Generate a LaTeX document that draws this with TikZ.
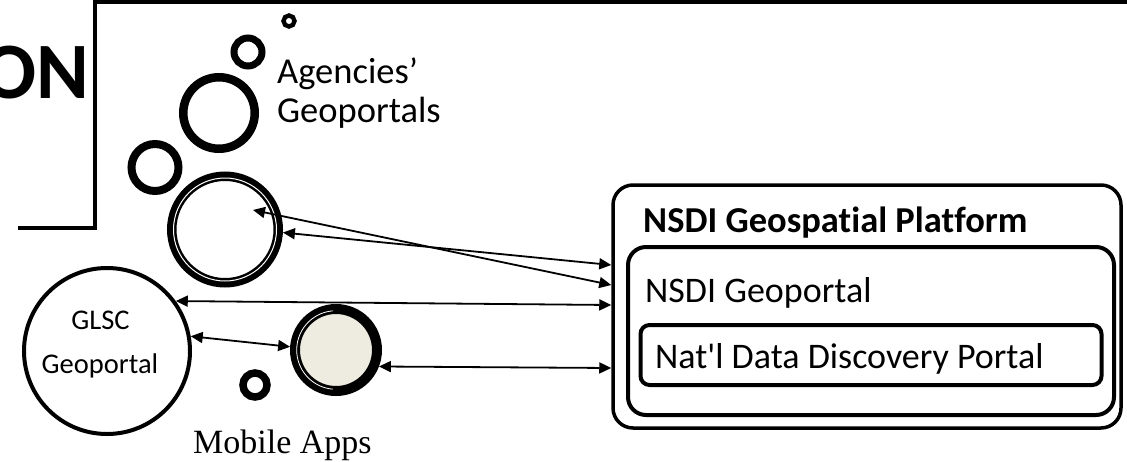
\documentclass[tikz,border=0pt]{standalone}
\usepackage{fontspec}
\setmainfont{Carlito}[Ligatures={TeXOff,NoCommon}]
\newfontfamily\seriff{Liberation Serif}
\usetikzlibrary{arrows.meta}
\definecolor{beige}{HTML}{EEECE1}
\begin{document}
\begin{tikzpicture}[x=1pt,y=-1pt,
  ring/.style={circle, draw, inner sep=0pt},
  lbl/.style={inner sep=0pt, anchor=base west},
  ctr/.style={inner sep=0pt, anchor=base},
  bigtxt/.style={font=\fontsize{36}{40}\selectfont},
  arr/.style={line width=1.8pt, {Triangle[length=12pt,width=11pt]}-{Triangle[length=12pt,width=11pt]}},
  pbox/.style={draw, rounded corners=#1, inner sep=0pt}]
\useasboundingbox (0,0) rectangle (1127,461);

% frame
\draw[line width=4pt] (18,228) -- (95,228) -- (95,2) -- (1135,2);
\node[anchor=base east, inner sep=0pt, font=\bfseries\fontsize{80}{80}\selectfont] (on) at (89,98) {ON};

% agencies' geoportal bubbles
\node[ring, line width=4.4pt, minimum size=11pt, outer sep=2.2pt] (c1) at (289,21) {};
\node[ring, line width=7pt, minimum size=28pt, outer sep=3.5pt] (c2) at (248,52) {};
\node[ring, line width=8.5pt, minimum size=71.5pt, outer sep=4.25pt] (c3) at (219,113) {};
\node[ring, line width=8pt, minimum size=47pt, outer sep=4pt] (c4) at (155,167.5) {};
\node[ring, line width=7.5pt, minimum size=24pt, outer sep=3.75pt] (c5) at (255,385) {};
\node[ring, line width=9.5pt, minimum size=106.5pt, outer sep=4.75pt] (dc) at (225,229.5) {};
\draw[white, line width=1pt] (dc.center) circle[radius=51.5pt];

\node[lbl, font=\fontsize{36.5}{40}\selectfont] (ag1) at (277,83) {Agencies’};
\node[lbl, font=\fontsize{36.5}{40}\selectfont] (ag2) at (277,122) {Geoportals};

% GLSC
\node[ring, line width=4pt, minimum size=166pt, outer sep=2pt] (glsc) at (107,351) {};
\node[ctr, font=\fontsize{28.5}{30}\selectfont] (gl1) at (100.5,329) {GLSC};
\node[ctr, font=\fontsize{28.5}{30}\selectfont] (gl2) at (100,373) {Geoportal};

% mobile apps
\node[ring, line width=10pt, minimum size=82pt, fill=beige, outer sep=5pt] (mc) at (336,350) {};
\draw[white, line width=0.8pt] ([shift={(95:39.3pt)}]mc.center) arc[start angle=95, end angle=265, radius=39.3pt];
\node[lbl, font=\seriff\fontsize{34}{36}\selectfont] (mob) at (193,453) {Mobile Apps};

% platform
\node[pbox=20pt, line width=3.5pt, minimum width=508pt, minimum height=243pt, outer sep=1.75pt] (plat) at (867,306.5) {};
\node[pbox=18pt, line width=4pt, minimum width=486pt, minimum height=168pt, outer sep=2pt] (geo) at (871,331) {};
\node[pbox=9pt, line width=4pt, minimum width=461pt, minimum height=60pt, outer sep=2pt] (ndd) at (871,355) {};
\node[lbl, font=\bfseries\fontsize{36.5}{40}\selectfont] (platt) at (643,232) {NSDI Geospatial Platform};
\node[lbl, bigtxt] (geot) at (645,302) {NSDI Geoportal};
\node[lbl, bigtxt] (nddt) at (655,368) {Nat'l Data Discovery Portal};

% connectors
\coordinate (a1) at (253,210);
\draw[arr] (a1) -- (plat.west |- 0,285);
\draw[arr] (dc.-3) -- (plat.west |- 0,265);
\draw[arr] (glsc.36) -- (plat.west |- 0,305);
\draw[arr] (glsc.10) -- (mc.176);
\draw[arr] (mc.-21) -- (plat.west |- 0,368);
\end{tikzpicture}
\end{document}
